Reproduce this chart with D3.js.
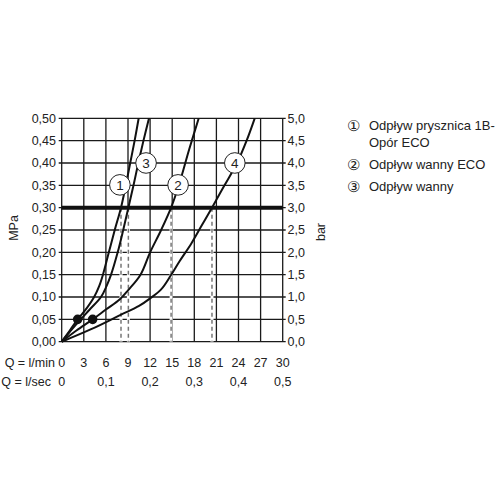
<!DOCTYPE html>
<html><head><meta charset="utf-8">
<script src="https://cdn.jsdelivr.net/npm/d3@7"></script>
<style>body{margin:0;background:#fff}svg{display:block}text{font-family:"Liberation Sans",Arial,sans-serif;fill:#222}</style>
</head><body><svg id="c" width="500" height="500"></svg>
<script>
const flowLmin = [0,3,6,9,12,15,18,21,24,27,30];
const flowLsec = [0,0.1,0.2,0.3,0.4,0.5];
const mpaTicks = [0,0.05,0.10,0.15,0.20,0.25,0.30,0.35,0.40,0.45,0.50];
const barTicks = [0,0.5,1,1.5,2,2.5,3,3.5,4,4.5,5];
const curve1 = [[0,0],[1.1,0.025],[2.17,0.05],[3.35,0.074],[4.4,0.10],[5.1,0.125],[5.6,0.15],[6.4,0.20],[7.2,0.25],[8.05,0.30],[8.7,0.35],[9.3,0.40],[9.9,0.45],[10.45,0.50]];
const curve3 = [[0,0],[1.15,0.023],[2.3,0.045],[3.8,0.072],[5.33,0.10],[6.1,0.125],[6.7,0.15],[7.6,0.20],[8.35,0.25],[9.05,0.30],[9.75,0.35],[10.4,0.40],[11.1,0.45],[11.85,0.50]];
const curve2 = [[0,0],[2,0.025],[4.2,0.05],[6,0.072],[7.9,0.095],[9,0.115],[10.7,0.15],[12,0.20],[13.5,0.25],[14.85,0.30],[15.9,0.35],[17.3,0.43],[18.6,0.50]];
const curve4 = [[0,0],[4,0.028],[8,0.06],[10.5,0.08],[12,0.097],[13.5,0.117],[14.8,0.148],[16,0.18],[17.6,0.22],[19,0.26],[20.4,0.30],[22.1,0.35],[23.8,0.40],[25.1,0.45],[26.2,0.50]];
const curves = [curve1, curve3, curve2, curve4];
const dashX = [8.05, 9.05, 14.85, 20.4];
const dots = [[2.17,0.05],[4.2,0.05]];
const curveLabels = [["1",7.9,0.351],["3",11.45,0.40],["2",15.8,0.351],["4",23.5,0.40]];
const limitPressure = 0.30;
const legendMarks = ["\u2460","","\u2461","\u2462"];
const legendLines = ["Odpływ prysznica 1B-","Opór ECO","Odpływ wanny ECO","Odpływ wanny"];

const svg = d3.select("#c");
const x = d3.scaleLinear([0,30],[61.7,282.7]);
const xs = d3.scaleLinear([0,0.5],[61.7,282.7]);
const y = d3.scaleLinear([0,0.5],[341.7,118.3]);
const yb = d3.scaleLinear([0,5],[341.7,118.3]);
const fmt = d => d.toFixed(2).replace(".",",");
const fmt1 = d => d.toFixed(1).replace(".",",");

// grid
const g = svg.append("g");
g.selectAll(".vg").data(flowLmin).join("line")
 .attr("x1",d=>x(d)).attr("x2",d=>x(d)).attr("y1",y(0)).attr("y2",y(0.5))
 .attr("stroke","#1a1a1a").attr("stroke-width",1.3);
g.selectAll(".hg").data(mpaTicks).join("line")
 .attr("x1",x(0)-3).attr("x2",x(30)+3).attr("y1",d=>y(d)).attr("y2",d=>y(d))
 .attr("stroke","#1a1a1a").attr("stroke-width",1.3);

// dashed drop lines
dashX.forEach(v=>{
  svg.append("line").attr("x1",x(v)).attr("x2",x(v)).attr("y1",y(limitPressure)).attr("y2",y(0))
   .attr("stroke","#fff").attr("stroke-width",3);
  svg.append("line").attr("x1",x(v)).attr("x2",x(v)).attr("y1",y(limitPressure)).attr("y2",y(0))
   .attr("stroke","#777").attr("stroke-width",1.5).attr("stroke-dasharray","4,3");
});
// thick limit line
svg.append("line").attr("x1",x(0)).attr("x2",x(30)).attr("y1",y(limitPressure)).attr("y2",y(limitPressure))
 .attr("stroke","#111").attr("stroke-width",4);

// curves
const line = d3.line().x(d=>x(d[0])).y(d=>y(d[1])).curve(d3.curveCatmullRom.alpha(0.5));
svg.selectAll(".cv").data(curves).join("path").attr("d",line)
 .attr("fill","none").attr("stroke","#111").attr("stroke-width",2);

// dots
svg.selectAll(".dot").data(dots).join("circle")
 .attr("cx",d=>x(d[0])).attr("cy",d=>y(d[1])).attr("r",4.8).attr("fill","#111");

// curve labels
curveLabels.forEach(([n,a,b])=>{
  svg.append("circle").attr("cx",x(a)).attr("cy",y(b)).attr("r",10.3)
   .attr("fill","#fff").attr("stroke","#222").attr("stroke-width",1);
  svg.append("text").attr("x",x(a)).attr("y",y(b)+4.8).attr("text-anchor","middle")
   .attr("font-size",13.5).text(n);
});

// axes labels
svg.selectAll(".lt").data(mpaTicks).join("text")
 .attr("x",56).attr("y",d=>y(d)+4.3).attr("text-anchor","end").attr("font-size",12.5).text(fmt);
svg.selectAll(".rt").data(barTicks).join("text")
 .attr("x",287.5).attr("y",d=>yb(d)+4.3).attr("text-anchor","start").attr("font-size",12.5).text(fmt1);
svg.selectAll(".bt").data(flowLmin).join("text")
 .attr("x",d=>x(d)).attr("y",366.5).attr("text-anchor","middle").attr("font-size",12.5).text(d=>d);
svg.selectAll(".st").data(flowLsec).join("text")
 .attr("x",d=>xs(d)).attr("y",385.5).attr("text-anchor","middle").attr("font-size",12.5)
 .text(d=>d===0?"0":d.toFixed(1).replace(".",","));
svg.append("text").attr("x",55).attr("y",366.5).attr("text-anchor","end").attr("font-size",12.5).text("Q = l/min");
svg.append("text").attr("x",51).attr("y",385.5).attr("text-anchor","end").attr("font-size",12.5).text("Q = l/sec");
svg.append("text").attr("transform","translate(18,228) rotate(-90)").attr("text-anchor","middle").attr("font-size",12.5).text("MPa");
svg.append("text").attr("transform","translate(325,232) rotate(-90)").attr("text-anchor","middle").attr("font-size",12.5).text("bar");

// legend
const legY = [130,147,169,191];
legendLines.forEach((t,i)=>{
  if (legendMarks[i]) svg.append("text").attr("x",347).attr("y",legY[i]+0.5).attr("font-size",15).text(legendMarks[i]);
  svg.append("text").attr("x",369).attr("y",legY[i]).attr("font-size",13).text(t);
});
</script></body></html>
